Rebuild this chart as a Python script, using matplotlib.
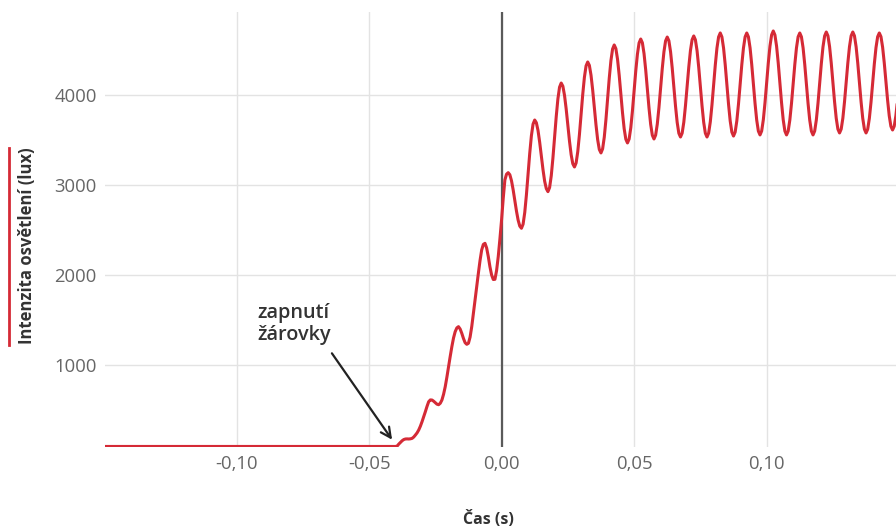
import numpy as np
import matplotlib
matplotlib.use("Agg")
import matplotlib.pyplot as plt
from matplotlib.ticker import FuncFormatter

plt.rcParams['font.family'] = ['Open Sans', 'DejaVu Sans']

# intenzita pred zapnutim (s, lux)
t_off = [-0.15, -0.0401]
lux_off = [95, 95]

# po zapnuti: vzorky po 0,625 ms od t_on
t_on = -0.0401
dt = 0.000625
lux_on = [
    # nabeh
    95, 100, 122, 140, 159, 172, 178, 179,
    178, 180, 185, 200, 222, 246, 278, 320,
    370, 425, 481, 540, 592, 612, 611, 598,
    581, 565, 559, 575, 611, 675, 759, 865,
    981, 1095, 1204, 1300, 1370, 1412, 1426, 1400,
    1352, 1295, 1248, 1230, 1241, 1310, 1426, 1570,
    1722, 1872, 2019, 2160, 2278, 2340, 2352, 2300,
    2204, 2090, 2000, 1950, 1952, 2050, 2204, 2400,
    2611, 2850, 3056, 3120, 3137,
    # kmitani 100 Hz
    3114, 3047, 2946, 2828, 2710, 2610, 2543, 2519,
    2565, 2695, 2890, 3121, 3351, 3546, 3676, 3722,
    3692, 3606, 3476, 3324, 3172, 3043, 2960, 2926,
    2972, 3103, 3299, 3530, 3760, 3956, 4087, 4133,
    4098, 3996, 3845, 3667, 3488, 3337, 3236, 3200,
    3245, 3371, 3560, 3784, 4007, 4196, 4323, 4367,
    4329, 4219, 4055, 3862, 3668, 3504, 3395, 3356,
    3402, 3532, 3726, 3956, 4186, 4380, 4510, 4556,
    4515, 4397, 4220, 4012, 3803, 3626, 3509, 3467,
    3511, 3636, 3824, 4045, 4266, 4453, 4578, 4622,
    4580, 4459, 4279, 4067, 3854, 3674, 3553, 3511,
    3554, 3677, 3861, 4078, 4294, 4478, 4601, 4644,
    4602, 4481, 4301, 4089, 3876, 3696, 3575, 3533,
    3576, 3697, 3880, 4095, 4309, 4492, 4613, 4656,
    4613, 4492, 4309, 4095, 3880, 3697, 3576, 3533,
    3577, 3702, 3890, 4111, 4332, 4520, 4645, 4689,
    4645, 4521, 4336, 4117, 3898, 3712, 3588, 3544,
    3588, 3712, 3898, 4117, 4336, 4521, 4645, 4689,
    4646, 4523, 4339, 4123, 3906, 3722, 3599, 3556,
    3600, 3725, 3913, 4134, 4355, 4542, 4667, 4711,
    4667, 4542, 4355, 4134, 3913, 3725, 3600, 3556,
    3599, 3722, 3906, 4123, 4339, 4523, 4646, 4689,
    4646, 4523, 4339, 4123, 3906, 3722, 3599, 3556,
    3600, 3724, 3909, 4128, 4347, 4533, 4656, 4700,
    4657, 4536, 4354, 4139, 3924, 3742, 3621, 3578,
    3621, 3742, 3924, 4139, 4354, 4536, 4657, 4700,
    4657, 4536, 4354, 4139, 3924, 3742, 3621, 3578,
    3620, 3741, 3921, 4134, 4346, 4526, 4647, 4689,
    4648, 4531, 4356, 4150, 3944, 3769, 3652, 3611,
    3652, 3769, 3944, 4150,
]

yticks = [1000, 2000, 3000, 4000]
xticks = [-0.10, -0.05, 0.00, 0.05, 0.10]

t = np.concatenate([t_off, t_on + dt * np.arange(len(lux_on))])
lux = np.concatenate([lux_off, lux_on])

red = '#d52a36'
grey = '#666666'
dark = '#333333'

fig = plt.figure(figsize=(8.96, 5.31), dpi=100)
ax = fig.add_axes([105 / 896, 84 / 531, 791 / 896, 435 / 531])

ax.plot(t, lux, color=red, lw=2.2, solid_joinstyle='round', zorder=3)
ax.axvline(0, color='#5a5a5a', lw=1.6, zorder=2)

ax.set_xlim(-0.1497, 0.1487)
ax.set_ylim(89, 4922)
ax.set_xticks(xticks)
ax.set_yticks(yticks)
ax.xaxis.set_major_formatter(FuncFormatter(lambda v, p: f"{v:.2f}".replace('.', ',')))
ax.yaxis.set_major_formatter(FuncFormatter(lambda v, p: f"{v:.0f}"))
ax.tick_params(length=0, labelsize=13.3, labelcolor=grey)
ax.tick_params(axis='y', pad=6)
ax.tick_params(axis='x', pad=6)
ax.grid(True, color='#e3e3e3', lw=1)
ax.set_axisbelow(True)
for s in ax.spines.values():
    s.set_visible(False)

# osa y popisek s cervenou znackou
fig.text(27 / 896, 1 - 246 / 531, 'Intenzita osvětlení (lux)', rotation=90,
         ha='center', va='center', fontsize=12, fontweight='bold', color=dark)
fig.add_artist(plt.Line2D([9 / 896, 9 / 896], [1 - 148 / 531, 1 - 345 / 531],
                          color=red, lw=2, transform=fig.transFigure))
fig.text(488 / 896, 3 / 531, 'Čas (s)', ha='center', va='bottom',
         fontsize=11.5, fontweight='bold', color=dark)

# anotace
note_xy = (-0.0924, 1690)
arrow_tip = (-0.0414, 170)
arrow_tail = (-0.0641, 1130)
ax.text(note_xy[0], note_xy[1], 'zapnutí\nžárovky', ha='left', va='top',
        fontsize=14.3, fontweight='semibold', color=dark, linespacing=1.15)
ax.annotate('', xy=arrow_tip, xytext=arrow_tail,
            arrowprops=dict(arrowstyle='->', color='#222222', lw=1.6,
                            mutation_scale=18, shrinkA=0, shrinkB=0))

fig.savefig('out.png', dpi=100)
